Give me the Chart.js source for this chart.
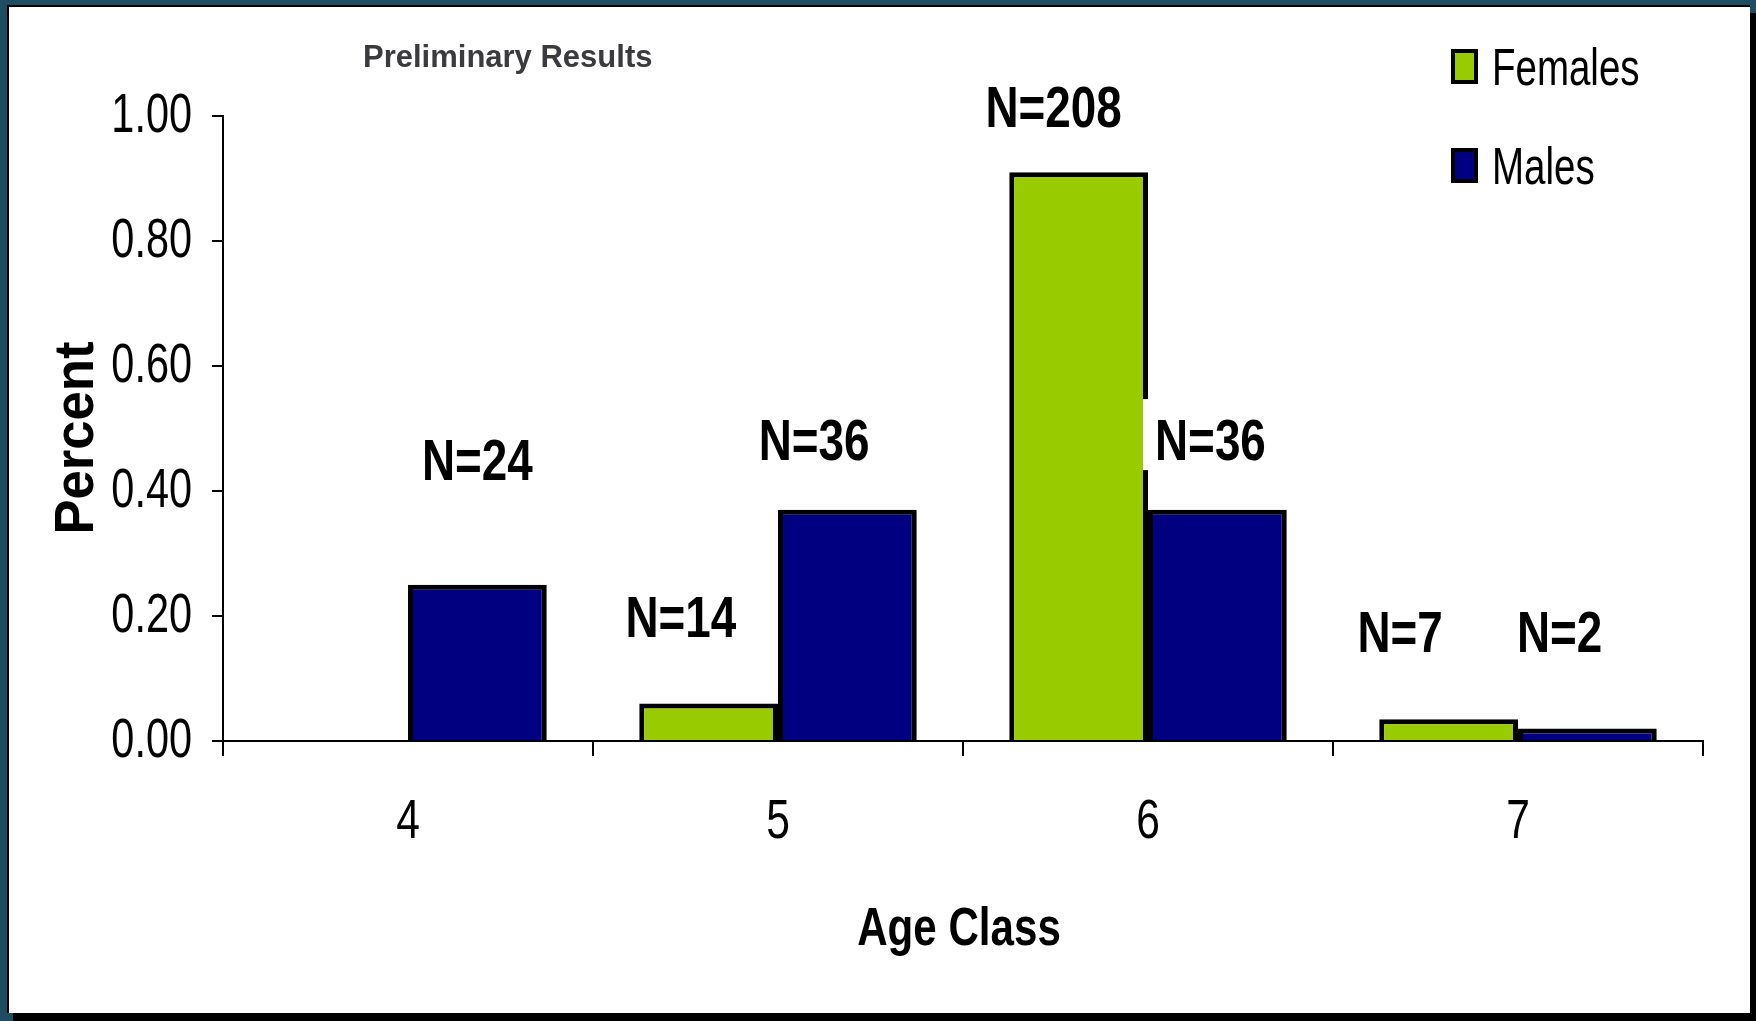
<!DOCTYPE html>
<html>
<head>
<meta charset="utf-8">
<script src="https://cdn.jsdelivr.net/npm/chart.js@4.4.1/dist/chart.umd.min.js"></script>
<style>
  html, body { margin: 0; padding: 0; }
  body { width: 1756px; height: 1021px; background: #1f4e63; position: relative; overflow: hidden; }
  #panel { position: absolute; left: 7px; top: 5px; width: 1741px; height: 1006px; background: #fff;
           border-left: 2px solid #000; border-top: 2px solid #000; box-shadow: 6px 8px 0 #000; }
  #wrap { position: absolute; left: 0; top: 0; width: 1756px; height: 1021px; }
</style>
</head>
<body>
<div id="panel"></div>
<div id="wrap"><canvas id="ageChart" width="1756" height="1021"></canvas></div>
<script>
// data
var ageClasses = ["4", "5", "6", "7"];
var femalePct = [0, 0.06, 0.91, 0.035];
var malePct = [0.25, 0.37, 0.37, 0.02];
var femaleN = [null, 14, 208, 7];
var maleN = [24, 36, 36, 2];
var yTicks = [0, 0.2, 0.4, 0.6, 0.8, 1.0];

var SANS = "'Liberation Sans', Arial, sans-serif";
var GREEN = "#99cc00";
var NAVY = "#000080";

// where each N= label sits: level on the y axis, sideways shift in bar widths
var nLabelSpots = [
    [null, { y: 0.20, dx: -0.2 }, { y: 1.015, dx: -0.18 }, { y: 0.176, dx: -0.35 }],
    [{ y: 0.451, dx: 0 }, { y: 0.483, dx: -0.24 }, { y: 0.483, dx: -0.05, box: true }, { y: 0.176, dx: -0.2 }]
];
var nCounts = [femaleN, maleN];

// squeezed text, like the Arial Narrow of the original slide
// y is the middle of the capitals
function narrowText(ctx, text, x, y, size, bold, align, sx) {
    ctx.save();
    ctx.font = (bold ? "bold " : "") + size + "px " + SANS;
    ctx.textAlign = align;
    ctx.textBaseline = "alphabetic";
    ctx.translate(x, y + size * 0.358);
    ctx.scale(sx, 1);
    ctx.fillText(text, 0, 0);
    ctx.restore();
}

var extras = {
    id: "extras",
    afterDatasetsDraw: function (chart) {
        var ctx = chart.ctx;
        var xScale = chart.scales.x;
        var yScale = chart.scales.y;
        var area = chart.chartArea;
        ctx.save();
        ctx.fillStyle = "#000";

        // tick labels
        yScale.ticks.forEach(function (t) {
            narrowText(ctx, t.value.toFixed(2), 192, yScale.getPixelForValue(t.value) - 4, 56, false, "right", 0.74);
        });
        ageClasses.forEach(function (lab, i) {
            narrowText(ctx, lab, xScale.getPixelForTick(i), 818, 56, false, "center", 0.76);
        });

        // axis titles
        narrowText(ctx, "Age Class", (area.left + area.right) / 2 - 4, 926, 54, true, "center", 0.78);
        ctx.save();
        ctx.translate(73, 438);
        ctx.rotate(-Math.PI / 2);
        narrowText(ctx, "Percent", 0, 0, 56, true, "center", 0.94);
        ctx.restore();

        // N= labels
        var size = 58, sx = 0.79;
        for (var d = 0; d < 2; d++) {
            var meta = chart.getDatasetMeta(d);
            for (var i = 0; i < nCounts[d].length; i++) {
                var spot = nLabelSpots[d][i];
                if (nCounts[d][i] == null || !spot) continue;
                var bar = meta.data[i];
                var text = "N=" + nCounts[d][i];
                var x = bar.x + spot.dx * bar.width;
                var cy = yScale.getPixelForValue(spot.y);
                if (spot.box) {
                    ctx.font = "bold " + size + "px " + SANS;
                    var w = ctx.measureText(text).width * sx;
                    ctx.fillStyle = "#fff";
                    ctx.fillRect(x - w / 2 - 12, cy - 40, w + 24, 71);
                    ctx.fillStyle = "#000";
                }
                narrowText(ctx, text, x, cy, size, true, "center", sx);
            }
        }

        // title
        ctx.textAlign = "left";
        ctx.textBaseline = "alphabetic";
        ctx.font = "bold 31px " + SANS;
        ctx.fillStyle = "#3b3b3f";
        ctx.fillText("Preliminary Results", 363, 67);

        // legend
        var rows = [66, 165];
        chart.data.datasets.forEach(function (ds, k) {
            var cy = rows[k];
            ctx.fillStyle = "#000";
            ctx.fillRect(1451, cy - 17, 27, 35);
            ctx.fillStyle = ds.backgroundColor;
            ctx.fillRect(1455, cy - 13, 19, 27);
            ctx.fillStyle = "#000";
            narrowText(ctx, ds.label, 1492, cy, 52, false, "left", 0.74);
        });
        ctx.restore();
    }
};

var chart = new Chart(document.getElementById("ageChart").getContext("2d"), {
    type: "bar",
    data: {
        labels: ageClasses,
        datasets: [
            {
                label: "Females",
                data: femalePct,
                backgroundColor: GREEN,
                borderColor: "#000",
                borderWidth: 5,
                categoryPercentage: 0.75,
                barPercentage: 1.0
            },
            {
                label: "Males",
                data: malePct,
                backgroundColor: NAVY,
                borderColor: "#000",
                borderWidth: 5,
                categoryPercentage: 0.75,
                barPercentage: 1.0
            }
        ]
    },
    options: {
        responsive: false,
        animation: false,
        layout: { padding: { top: 116, right: 53, left: 0, bottom: 0 } },
        plugins: {
            legend: { display: false },
            tooltip: { enabled: false }
        },
        scales: {
            x: {
                grid: { offset: true, drawOnChartArea: false, tickLength: 15, color: "#000", lineWidth: 2 },
                border: { color: "#000", width: 2 },
                ticks: { display: false },
                afterFit: function (s) { s.height = 280; }
            },
            y: {
                min: 0,
                max: 1,
                afterBuildTicks: function (axis) {
                    axis.ticks = yTicks.map(function (v) { return { value: v }; });
                },
                grid: { drawOnChartArea: false, tickLength: 11, color: "#000", lineWidth: 2 },
                border: { color: "#000", width: 2 },
                ticks: { display: false },
                afterFit: function (s) { s.width = 223; }
            }
        }
    },
    plugins: [extras]
});
</script>
</body>
</html>
